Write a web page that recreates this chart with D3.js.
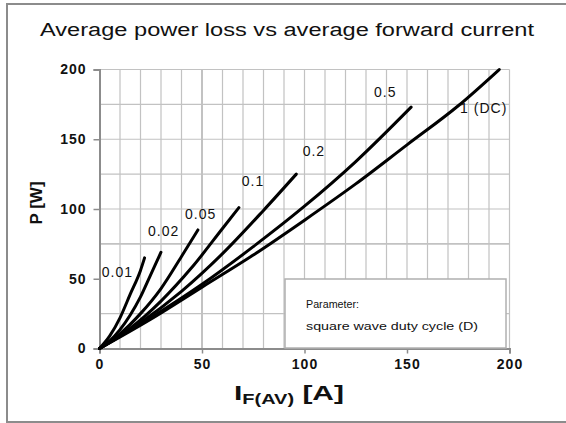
<!DOCTYPE html>
<html><head><meta charset="utf-8">
<script src="https://cdn.jsdelivr.net/npm/d3@7"></script>
<style>html,body{margin:0;padding:0;background:#fff}svg{display:block}</style>
</head><body>
<svg id="c" width="566" height="423"></svg>
<script>
// ---- data ----
const dutyLabels = ["0.01", "0.02", "0.05", "0.1", "0.2", "0.5", "1 (DC)"];
const I_001 = [0, 5, 10, 15, 20, 22];
const P_001 = [0, 9, 22, 39, 56, 65];
const I_002 = [0, 5, 10, 15, 20, 25, 30];
const P_002 = [0, 5.5, 13.5, 24, 37, 53, 69];
const I_005 = [0, 10, 20, 30, 40, 48];
const P_005 = [0, 10.5, 25, 43, 66, 85];
const I_01 = [0, 15, 30, 45, 60, 68];
const P_01 = [0, 14.5, 34, 58, 86, 101];
const I_02 = [0, 20, 40, 60, 80, 96];
const P_02 = [0, 18.5, 41, 68, 99, 125];
const I_05 = [0, 25, 50, 75, 100, 125, 152];
const P_05 = [0, 22, 46, 73, 102, 134, 173];
const I_DC = [0, 25, 50, 75, 100, 125, 150, 175, 195];
const P_DC = [0, 21, 44, 67, 92, 118, 146, 174, 200];
const labelI = [1.1, 23.7, 41.7, 69.4, 99.1, 133.9, 175.9];
const labelP = [50.9, 80.6, 92.8, 116.5, 137.9, 180.3, 168.8];
const xTicks = [0, 50, 100, 150, 200];
const yTicks = [0, 50, 100, 150, 200];
const xGrid = d3.range(10, 201, 10);
const yGrid = [25, 75, 100, 125, 150, 175, 200];
const titleText = "Average power loss vs average forward current";
const legendLines = ["Parameter:", "square wave duty cycle (D)"];

const seriesI = [I_001, I_002, I_005, I_01, I_02, I_05, I_DC];
const seriesP = [P_001, P_002, P_005, P_01, P_02, P_05, P_DC];

// ---- layout ----
const svg = d3.select("#c");
const FONT = "'Liberation Sans', Arial, sans-serif";
const x = d3.scaleLinear().domain([0, 200]).range([99.5, 509.5]);
const y = d3.scaleLinear().domain([0, 200]).range([348.5, 69.5]);

// outer frame
svg.append("rect").attr("x", 7).attr("y", 4).attr("width", 580).attr("height", 418)
  .attr("fill", "none").attr("stroke", "#8c8c8c").attr("stroke-width", 2);

// title
svg.append("text").attr("x", 287).attr("y", 36).attr("text-anchor", "middle")
  .attr("font-family", FONT).attr("font-size", 18).attr("fill", "#111")
  .attr("textLength", 494).attr("lengthAdjust", "spacingAndGlyphs")
  .text(titleText);

// grid
const g = svg.append("g");
g.selectAll("line.vx").data(xGrid).join("line")
  .attr("x1", d => x(d)).attr("x2", d => x(d)).attr("y1", y(0)).attr("y2", y(200))
  .attr("stroke", "#c2c2c2").attr("stroke-width", d => d === 50 ? 2 : 1.2);
g.selectAll("line.hy").data(yGrid).join("line")
  .attr("x1", x(0)).attr("x2", x(200)).attr("y1", d => y(d)).attr("y2", d => y(d))
  .attr("stroke", "#c2c2c2").attr("stroke-width", d => d === 75 ? 1.8 : 1.2);

// axes
const xAxis = d3.axisBottom(x).tickValues(xTicks).tickSize(5).tickPadding(6);
const yAxis = d3.axisLeft(y).tickValues(yTicks).tickSize(6).tickPadding(7);
const gx = svg.append("g").attr("transform", `translate(0,${y(0)})`).call(xAxis);
const gy = svg.append("g").attr("transform", `translate(${x(0)},0)`).call(yAxis);
[gx, gy].forEach(a => {
  a.select(".domain").attr("stroke", "#8c8c8c").attr("stroke-width", 2);
  a.selectAll(".tick line").attr("stroke", "#8c8c8c").attr("stroke-width", 1.5);
  a.selectAll(".tick text").attr("font-family", FONT).attr("font-size", 14)
    .attr("font-weight", "bold").attr("fill", "#111").attr("letter-spacing", 1);
});

// legend box
svg.append("rect").attr("x", 285).attr("y", 279).attr("width", 221).attr("height", 69)
  .attr("fill", "#fff").attr("stroke", "#b0b0b0").attr("stroke-width", 1.5);
svg.append("text").attr("x", 306).attr("y", 308).attr("font-family", FONT).attr("font-size", 10)
  .attr("fill", "#111").attr("textLength", 53).attr("lengthAdjust", "spacingAndGlyphs").text(legendLines[0]);
svg.append("text").attr("x", 306).attr("y", 330).attr("font-family", FONT).attr("font-size", 10)
  .attr("fill", "#111").attr("textLength", 172).attr("lengthAdjust", "spacingAndGlyphs").text(legendLines[1]);

// curves
const line = d3.line().x(d => x(d[0])).y(d => y(d[1])).curve(d3.curveMonotoneX);
seriesI.forEach((Is, k) => {
  const pts = Is.map((v, i) => [v, seriesP[k][i]]);
  svg.append("path").attr("d", line(pts)).attr("fill", "none")
    .attr("stroke", "#000").attr("stroke-width", 3).attr("stroke-linecap", "round");
});

// curve labels
svg.selectAll("text.lbl").data(dutyLabels).join("text")
  .attr("x", (d, i) => x(labelI[i])).attr("y", (d, i) => y(labelP[i]))
  .attr("font-family", FONT).attr("font-size", 14).attr("fill", "#111")
  .attr("letter-spacing", 1).text(d => d);

// axis titles
svg.append("text").attr("transform", "translate(41.5,203) rotate(-90)")
  .attr("text-anchor", "middle").attr("font-family", FONT).attr("font-size", 17)
  .attr("font-weight", "bold").attr("fill", "#111").text("P [W]");
const xl = svg.append("text").attr("x", 234).attr("y", 400)
  .attr("font-family", FONT).attr("font-weight", "bold").attr("fill", "#111")
  .attr("textLength", 110).attr("lengthAdjust", "spacingAndGlyphs");
xl.append("tspan").attr("font-size", 21).text("I");
xl.append("tspan").attr("font-size", 14).attr("dy", 4).text("F(AV)");
xl.append("tspan").attr("font-size", 21).attr("dy", -4).text(" [A]");
</script>
</body></html>
